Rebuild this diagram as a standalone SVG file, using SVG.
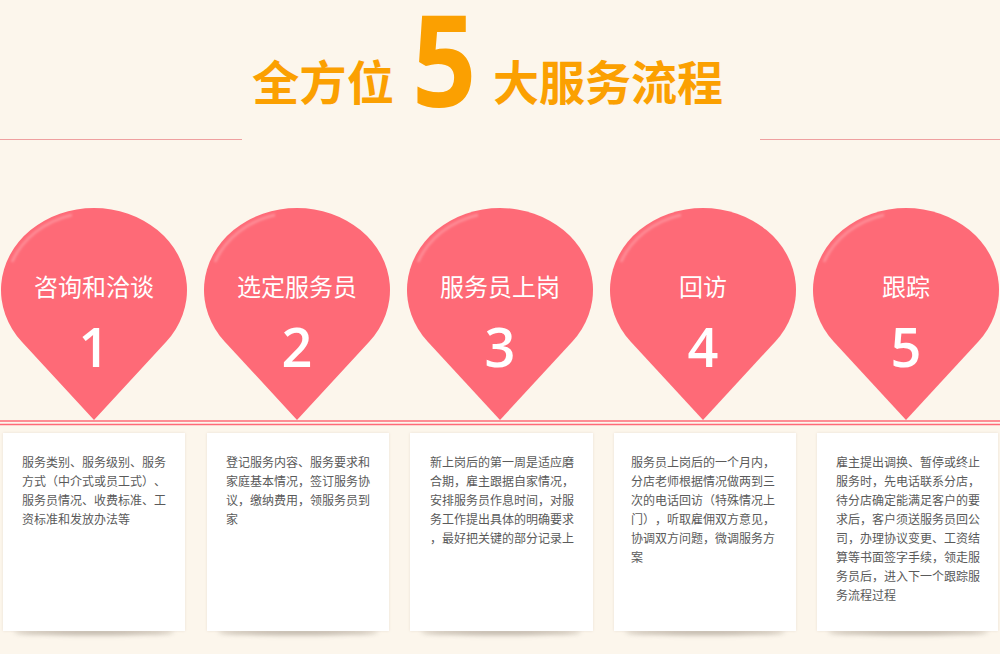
<svg xmlns="http://www.w3.org/2000/svg" width="1000" height="654" viewBox="0 0 1000 654">
<defs>
<style>
.title{font-family:"Noto Sans CJK SC","Noto Sans",sans-serif;font-weight:700;fill:#FBA001;font-size:47px}
.big5{font-family:"Open Sans","Liberation Sans",sans-serif;font-weight:700;fill:#FBA001;font-size:128px}
.pin{fill:#FE6A77}
.hl{fill:none;stroke:#ffffff;stroke-opacity:0.22;stroke-width:3;filter:url(#soft)}
.lbl{font-family:"Noto Sans CJK SC","Noto Sans",sans-serif;fill:#ffffff;font-size:24px;text-anchor:middle}
.num{font-family:"Open Sans","Noto Sans",sans-serif;fill:#ffffff;font-size:54px;font-weight:600;text-anchor:middle}
.box{fill:#ffffff;filter:url(#bs)}
.shadow{fill:#8a7e70;opacity:0.55;filter:url(#blur)}
.txt{font-family:"Noto Sans CJK SC","Noto Sans",sans-serif;fill:#5a5a5a;font-size:12px;text-spacing-trim:space-all}
</style>
<filter id="soft" x="-20%" y="-20%" width="140%" height="140%"><feGaussianBlur stdDeviation="1.2"/></filter>
<filter id="blur" x="-20%" y="-200%" width="140%" height="500%"><feGaussianBlur stdDeviation="2.5"/></filter>
<filter id="bs" x="-10%" y="-10%" width="120%" height="120%"><feDropShadow dx="0" dy="0" stdDeviation="1.5" flood-color="#c9b9a6" flood-opacity="0.35"/></filter>
<path id="pinShape" d="M-72.2,341.7 A93 82 0 1 1 72.2,341.7 L0,420 Z"/>
<path id="hlShape" d="M-82,262 A88 77 0 0 1 -22,215"/>
</defs>
<rect width="1000" height="654" fill="#FCF6EC"/>

<g id="title">
<text class="title" x="252" y="100" textLength="142" lengthAdjust="spacingAndGlyphs">全方位</text>
<text class="big5" x="0" y="0" transform="translate(412,107) scale(0.88,1)">5</text>
<text class="title" x="493" y="100" textLength="230" lengthAdjust="spacingAndGlyphs">大服务流程</text>
<line x1="0" y1="139.5" x2="242" y2="139.5" stroke="#EFA0A0" stroke-width="1"/>
<line x1="760" y1="139.5" x2="1000" y2="139.5" stroke="#EFA0A0" stroke-width="1"/>
</g>

<g id="connectors">
<line x1="0" y1="421" x2="1000" y2="421" stroke="#FE6A77" stroke-width="1.6"/>
<line x1="0" y1="424.5" x2="1000" y2="424.5" stroke="#FE6A77" stroke-width="1.3"/>
</g>

<g id="step1">
<use href="#pinShape" class="pin" x="94"/>
<use href="#hlShape" class="hl" x="94"/>
<text class="lbl" x="94" y="296">咨询和洽谈</text>
<text class="num" x="94" y="367">1</text>
<ellipse class="shadow" cx="94" cy="632" rx="80" ry="3"/>
<rect class="box" x="3" y="433" width="182" height="198"/>
<text class="txt"><tspan x="22" y="467">服务类别、服务级别、服务</tspan><tspan x="22" y="486">方式（中介式或员工式）、</tspan><tspan x="22" y="505">服务员情况、收费标准、工</tspan><tspan x="22" y="524">资标准和发放办法等</tspan></text>
</g>

<g id="step2">
<use href="#pinShape" class="pin" x="297"/>
<use href="#hlShape" class="hl" x="297"/>
<text class="lbl" x="297" y="296">选定服务员</text>
<text class="num" x="297" y="367">2</text>
<ellipse class="shadow" cx="298" cy="632" rx="80" ry="3"/>
<rect class="box" x="207" y="433" width="182" height="198"/>
<text class="txt"><tspan x="226" y="467">登记服务内容、服务要求和</tspan><tspan x="226" y="486">家庭基本情况，签订服务协</tspan><tspan x="226" y="505">议，缴纳费用，领服务员到</tspan><tspan x="226" y="524">家</tspan></text>
</g>

<g id="step3">
<use href="#pinShape" class="pin" x="500"/>
<use href="#hlShape" class="hl" x="500"/>
<text class="lbl" x="500" y="296">服务员上岗</text>
<text class="num" x="500" y="367">3</text>
<ellipse class="shadow" cx="501" cy="632" rx="80" ry="3"/>
<rect class="box" x="410" y="433" width="183" height="198"/>
<text class="txt"><tspan x="430" y="467">新上岗后的第一周是适应磨</tspan><tspan x="430" y="486">合期，雇主跟据自家情况，</tspan><tspan x="430" y="505">安排服务员作息时间，对服</tspan><tspan x="430" y="524">务工作提出具体的明确要求</tspan><tspan x="430" y="543">，最好把关键的部分记录上</tspan></text>
</g>

<g id="step4">
<use href="#pinShape" class="pin" x="703"/>
<use href="#hlShape" class="hl" x="703"/>
<text class="lbl" x="703" y="296">回访</text>
<text class="num" x="703" y="367">4</text>
<ellipse class="shadow" cx="705" cy="632" rx="80" ry="3"/>
<rect class="box" x="614" y="433" width="182" height="198"/>
<text class="txt"><tspan x="631" y="467">服务员上岗后的一个月内，</tspan><tspan x="631" y="486">分店老师根据情况做两到三</tspan><tspan x="631" y="505">次的电话回访（特殊情况上</tspan><tspan x="631" y="524">门），听取雇佣双方意见，</tspan><tspan x="631" y="543">协调双方问题，微调服务方</tspan><tspan x="631" y="562">案</tspan></text>
</g>

<g id="step5">
<use href="#pinShape" class="pin" x="906"/>
<use href="#hlShape" class="hl" x="906"/>
<text class="lbl" x="906" y="296">跟踪</text>
<text class="num" x="906" y="367">5</text>
<ellipse class="shadow" cx="908" cy="632" rx="80" ry="3"/>
<rect class="box" x="817" y="433" width="181" height="198"/>
<text class="txt"><tspan x="836" y="467">雇主提出调换、暂停或终止</tspan><tspan x="836" y="486">服务时，先电话联系分店，</tspan><tspan x="836" y="505">待分店确定能满足客户的要</tspan><tspan x="836" y="524">求后，客户须送服务员回公</tspan><tspan x="836" y="543">司，办理协议变更、工资结</tspan><tspan x="836" y="562">算等书面签字手续，领走服</tspan><tspan x="836" y="581">务员后，进入下一个跟踪服</tspan><tspan x="836" y="600">务流程过程</tspan></text>
</g>
</svg>
